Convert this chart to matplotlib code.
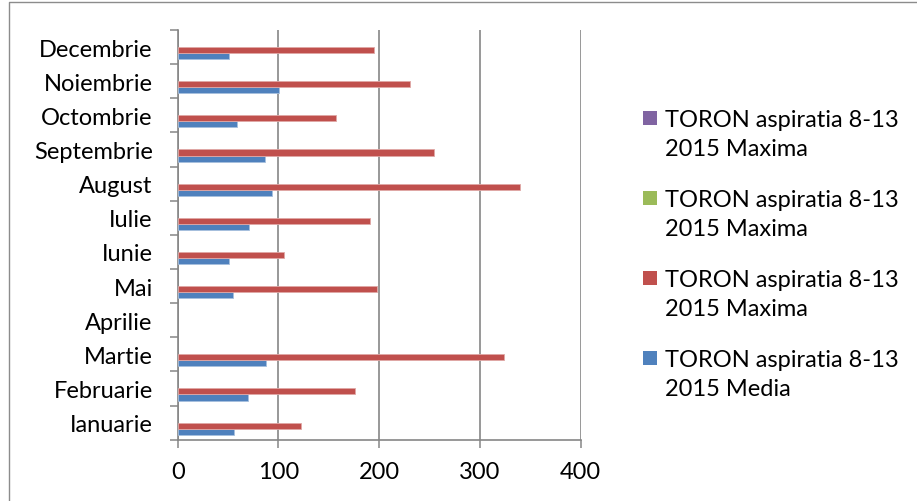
import numpy as np
import matplotlib
matplotlib.use("Agg")
import matplotlib.pyplot as plt
from matplotlib.patches import Rectangle
from matplotlib.lines import Line2D

months = ["Ianuarie", "Februarie", "Martie", "Aprilie", "Mai", "Iunie", "Iulie",
          "August", "Septembrie", "Octombrie", "Noiembrie", "Decembrie"]
media = [56, 70, 88, None, 55, 51, 71, 94, 87, 59, 101, 51]
maxima_red = [122, 176, 324, None, 198, 106, 191, 340, 254, 157, 231, 195]
maxima_green = [None] * 12
maxima_purple = [None] * 12

series_labels = ["TORON aspiratia 8-13\n2015 Media",
                 "TORON aspiratia 8-13\n2015 Maxima",
                 "TORON aspiratia 8-13\n2015 Maxima",
                 "TORON aspiratia 8-13\n2015 Maxima"]
series_values = [media, maxima_red, maxima_green, maxima_purple]
colors = ["#4F81BD", "#C0504D", "#9BBB59", "#8064A2"]
edges = ["#A7C0DE", "#E0A8A6", "#CDDDAC", "#BFB1D0"]
xticks = [0, 100, 200, 300, 400]

plt.rcParams['font.family'] = ['Lato', 'DejaVu Sans']
W, H = 917, 502
FS = 17
fig = plt.figure(figsize=(W / 100, H / 100), dpi=100)
ax = fig.add_axes([177.7 / W, 1 - 440.7 / H, 403 / W, 409.7 / H])

y = np.arange(len(months))
w = 0.176
for i, (vals, c, e) in enumerate(zip(series_values, colors, edges)):
    v = np.array([np.nan if t is None else t for t in vals], dtype=float)
    ax.barh(y + (i - 1.5) * w, v, height=w, color=c, edgecolor=e, linewidth=0.6, zorder=3)

grid_c = "#868686"
ax.set_xlim(0, 400)
ax.set_ylim(-0.5, len(months) - 0.5)
ax.set_xticks(xticks)
ax.set_xticklabels([str(t) for t in xticks], fontsize=FS)
ax.set_yticks(y)
ax.set_yticklabels(months, fontsize=FS)
ax.set_yticks(np.arange(-0.5, len(months), 1), minor=True)
ax.tick_params(axis='y', which='major', length=0, pad=18)
ax.tick_params(axis='y', which='minor', length=6, width=1.1, color=grid_c, direction='out')
ax.tick_params(axis='x', which='major', length=6, width=1.1, color=grid_c, direction='out', pad=9)
ax.xaxis.grid(True, color=grid_c, linewidth=1.2, zorder=1)
ax.set_axisbelow(True)
for s in ['top', 'right']:
    ax.spines[s].set_visible(False)
for s in ['left', 'bottom']:
    ax.spines[s].set_color(grid_c)
    ax.spines[s].set_linewidth(1.2)

# legend (Excel order: last series on top)
lx, ly0, step = 643, 119, 80
for k, idx in enumerate([3, 2, 1, 0]):
    yc = ly0 + k * step
    fig.patches.append(Rectangle((lx / W, 1 - (yc + 7) / H), 14 / W, 14 / H,
                                 transform=fig.transFigure, facecolor=colors[idx],
                                 edgecolor='none'))
    fig.text(665 / W, 1 - (yc - 9) / H, series_labels[idx], fontsize=FS,
             va='top', ha='left', linespacing=1.5)

# chart area border
fig.add_artist(Line2D([9 / W, 9 / W, 1], [0, 1 - 3 / H, 1 - 3 / H],
                      transform=fig.transFigure, color="#8C8C8C", linewidth=1.0))

fig.savefig("out.png", dpi=100)
